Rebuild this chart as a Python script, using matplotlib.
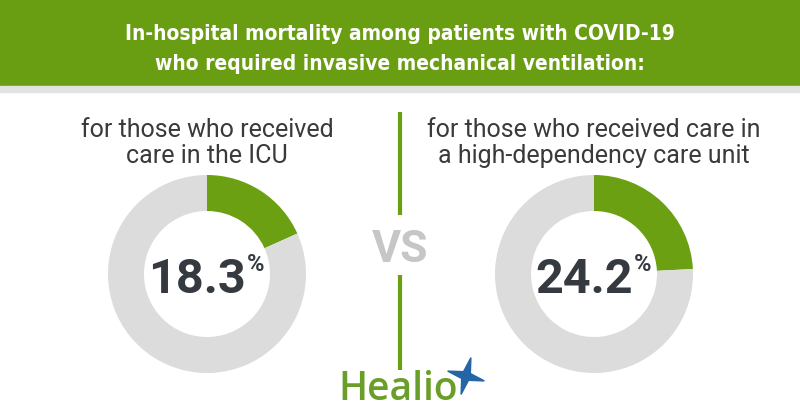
import numpy as np
import matplotlib.pyplot as plt
from matplotlib.patches import Rectangle, Polygon

title_lines = ["In-hospital mortality among patients with COVID-19",
               "who required invasive mechanical ventilation:"]
groups = [["for those who received", "care in the ICU"],
          ["for those who received care in", "a high-dependency care unit"]]
mortality = [18.3, 24.2]
labels = ["18.3", "24.2"]

green = "#6ba013"
ring_gray = "#dcdcdc"
dark = "#343a3f"

H = 420
fig = plt.figure(figsize=(8, 4.2), dpi=100)
ax = fig.add_axes([0, 0, 1, 1])

def y(py):
    return H - py

# header band
ax.add_patch(Rectangle((0, y(86)), 800, 86, color="#6a9e12", zorder=1))
ax.add_patch(Rectangle((0, y(92)), 800, 6, color="#e2e2e2", zorder=1))
for i, line in enumerate(title_lines):
    ax.text(400, y(40 + i * 30), line, ha="center", va="baseline",
            color="white", fontsize=15, fontweight="bold",
            family="DejaVu Sans", fontstretch="condensed", zorder=2)

centers = [(207, 274), (594, 274)]
for k in range(2):
    cx, cy = centers[k]
    v = mortality[k]
    ax.pie([v, 100 - v], colors=[green, ring_gray], startangle=90,
           counterclock=False, radius=99, center=(cx, y(cy)),
           wedgeprops=dict(width=36, linewidth=0), frame=True)
    for i, line in enumerate(groups[k]):
        ax.text(cx, y(137 + i * 26), line, ha="center", va="baseline",
                color="#3a3a3a", fontsize=18, family="Roboto")
    num = ax.text(cx - 10, y(293), labels[k], ha="center", va="baseline",
                  color=dark, fontsize=35, fontweight="bold", family="Roboto")
    ax.annotate("%", xy=(1, 1), xycoords=num, xytext=(1, 3),
                textcoords="offset points", ha="left", va="top",
                color=dark, fontsize=17, fontweight="bold", family="Roboto")

ax.set_xlim(0, 800)
ax.set_ylim(0, H)
ax.set_aspect("equal")
ax.axis("off")

# divider
ax.plot([400, 400], [y(112), y(215)], color=green, lw=3, solid_capstyle="butt")
ax.plot([400, 400], [y(275), y(370)], color=green, lw=3, solid_capstyle="butt")
ax.text(400, y(262), "VS", ha="center", va="baseline", color="#c6c6c6",
        fontsize=32, fontweight="bold", family="Roboto")

# logo
ax.text(398, y(400), "Healio", ha="center", va="baseline", color="#6a9e2a",
        fontsize=28, fontweight="semibold", family="Open Sans")
ang = np.deg2rad(np.arange(0, 360, 45) + 75)
rad = np.where(np.arange(8) % 2 == 0, 19, 5)
star = np.c_[466 + rad * np.cos(ang), y(376) + rad * np.sin(ang)]
ax.add_patch(Polygon(star, closed=True, color="#2465a8", zorder=3))

fig.savefig("out.png", dpi=100)
